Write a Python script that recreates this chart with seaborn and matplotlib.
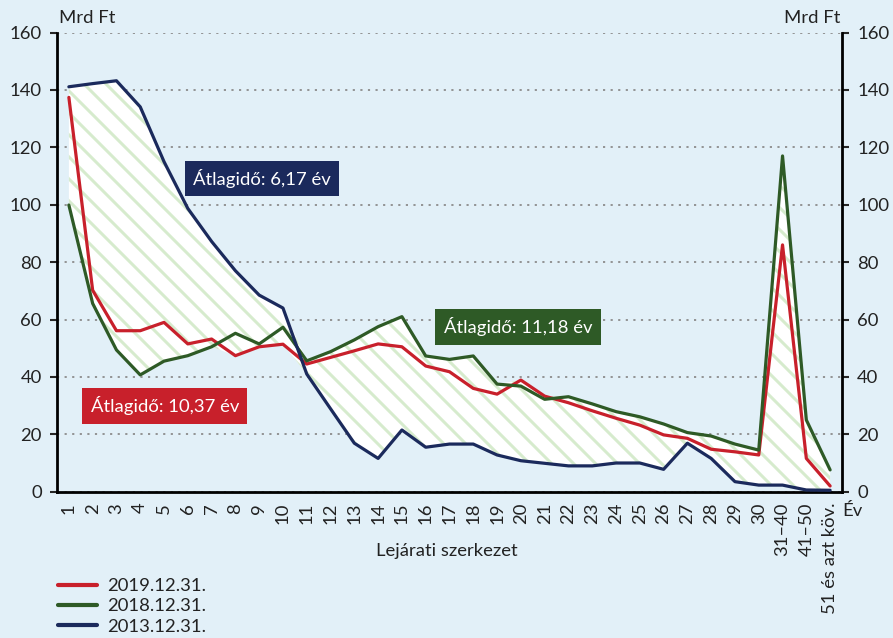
import numpy as np
import pandas as pd
import matplotlib
matplotlib.use("Agg")
import matplotlib.pyplot as plt
from matplotlib.lines import Line2D
import seaborn as sns

# data (Mrd Ft by maturity year)
cats = [str(i) for i in range(1, 31)] + ["31–40", "41–50", "51 és azt köv."]
y2019 = [137.4, 70.2, 56.1, 56.1, 59.0, 51.5, 53.2, 47.4, 50.5, 51.4,
         44.5, 46.8, 49.1, 51.5, 50.5, 43.8, 41.8, 36.0, 34.0, 38.9,
         33.3, 31.0, 28.2, 25.6, 23.2, 19.8, 18.6, 14.8, 13.9, 12.8,
         86.0, 11.6, 2.0]
y2018 = [99.9, 65.6, 49.4, 40.7, 45.5, 47.4, 50.5, 55.2, 51.5, 57.3,
         45.6, 48.8, 52.9, 57.5, 61.0, 47.3, 46.1, 47.3, 37.5, 36.8,
         32.2, 33.1, 30.6, 27.9, 26.1, 23.6, 20.6, 19.4, 16.6, 14.5,
         117.0, 25.0, 7.6]
y2013 = [141.1, 142.2, 143.2, 134.1, 115.0, 98.7, 87.2, 77.0, 68.5, 64.0,
         41.0, 28.9, 16.9, 11.6, 21.5, 15.5, 16.6, 16.6, 12.8, 10.8,
         9.9, 9.0, 9.0, 10.0, 10.0, 7.8, 16.9, 11.6, 3.5, 2.3,
         2.3, 0.6, 0.5]
series = ["2019.12.31.", "2018.12.31.", "2013.12.31."]
colors = ["#c8202b", "#2e5a26", "#1b2a5c"]
notes = ["Átlagidő: 10,37 év", "Átlagidő: 11,18 év", "Átlagidő: 6,17 év"]
note_pos = [(4.04, 29.9), (18.88, 57.4), (8.13, 109.2)]

idx = np.arange(len(cats))
df = pd.DataFrame({
    "x": np.tile(idx, 3),
    "y": y2019 + y2018 + y2013,
    "series": np.repeat(series, len(cats)),
})

# low dpi so the hatch stripes come out at the reference density
DPI = 66
k = 100 / DPI  # sizes below are written for 100 dpi and scaled by k

bg = "#e2f0f8"
sns.set_style("white", {"axes.facecolor": bg, "figure.facecolor": bg})
plt.rcParams["font.family"] = ["Lato", "DejaVu Sans"]
plt.rcParams["hatch.linewidth"] = 3.3
txt = "#222222"
fs = 13.3 * k

fig = plt.figure(figsize=(893 / DPI, 638 / DPI), dpi=DPI)
ax = fig.add_axes([0.0638, 0.2293, 0.8791, 0.7197])

# hatched band between the lowest and highest curve
arr = np.array([y2019, y2018, y2013])
ax.fill_between(idx, arr.min(axis=0), arr.max(axis=0), facecolor="white",
                edgecolor="#d6ebcd", hatch="\\", linewidth=0, zorder=1.5)

sns.lineplot(data=df, x="x", y="y", hue="series", hue_order=series,
             palette=colors, linewidth=2.3 * k, legend=False, ax=ax, zorder=3)

ax.set_xlim(-0.5, 32.5)
ax.set_ylim(0, 160)
ax.set_xlabel("")
ax.set_ylabel("")
ax.set_yticks(range(0, 161, 20))
ax.set_xticks(idx)
ax.set_xticklabels(cats, rotation=90)
ax.set_xticks(np.arange(0.5, 32, 1), minor=True)
ax.tick_params(axis="x", which="major", length=0, pad=8 * k, labelsize=fs, labelcolor=txt)
ax.tick_params(axis="x", which="minor", length=5 * k, width=1.5 * k, direction="out", color="black")
ax.tick_params(axis="y", length=5 * k, width=1.5 * k, direction="out", pad=6 * k,
               labelsize=fs, labelcolor=txt)
ax.yaxis.grid(True, color="#8c8c8c", linestyle=(0, (1.2, 3)), linewidth=1.3 * k)
ax.set_axisbelow(True)
for s in ["top", "right"]:
    ax.spines[s].set_visible(False)
for s in ["left", "bottom"]:
    ax.spines[s].set_color("black")
    ax.spines[s].set_linewidth(2 * k)

ax2 = ax.twinx()
ax2.set_ylim(0, 160)
ax2.set_yticks(range(0, 161, 20))
ax2.tick_params(axis="y", length=5 * k, width=1.5 * k, direction="out", pad=6 * k,
                labelsize=fs, labelcolor=txt)
for s in ["top", "left", "bottom"]:
    ax2.spines[s].set_visible(False)
ax2.spines["right"].set_color("black")
ax2.spines["right"].set_linewidth(2 * k)

for t, (px, py), c in zip(notes, note_pos, colors):
    ax.text(px, py, t, color="white", fontsize=fs, ha="center", va="center", zorder=5,
            bbox=dict(boxstyle="square,pad=0.45", fc=c, ec="none"))

fig.text(0.066, 0.972, "Mrd Ft", fontsize=fs, color=txt, ha="left", va="center")
fig.text(0.941, 0.972, "Mrd Ft", fontsize=fs, color=txt, ha="right", va="center")
fig.text(0.955, 0.199, "Év", fontsize=fs, color=txt, ha="center", va="center")
fig.text(0.5002, 0.137, "Lejárati szerkezet", fontsize=fs, color=txt, ha="center", va="center")

handles = [Line2D([], [], color=c, linewidth=3 * k) for c in colors]
fig.legend(handles, series, loc="upper left", bbox_to_anchor=(0.065, 0.094),
           frameon=False, fontsize=fs, handlelength=2.1, labelspacing=0.24,
           handletextpad=0.55, borderpad=0, borderaxespad=0, labelcolor=txt)

fig.savefig("out.png", dpi=DPI, facecolor=bg)
